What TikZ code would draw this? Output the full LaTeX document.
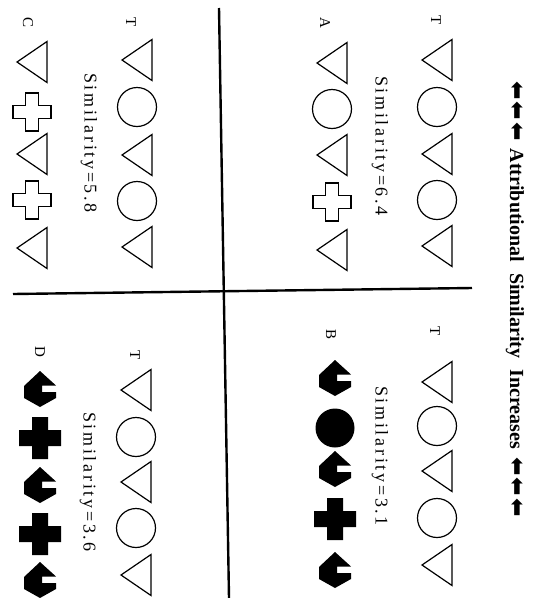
\documentclass[tikz,border=0pt]{standalone}
\usepackage{fontspec}
\setmainfont{Liberation Serif}
\newfontfamily\arrowfont{DejaVu Sans}
\newfontfamily\spacedfont[LetterSpace=15]{Liberation Serif}
\begin{document}
\begin{tikzpicture}[x=1pt,y=-1pt,
  shp/.style={draw=black,line width=1.2pt,line join=miter},
  lab/.style={rotate=-90,font=\fontsize{15}{15}\selectfont,inner sep=0pt},
  sim/.style={rotate=-90,font=\spacedfont\fontsize{18}{18}\selectfont,inner sep=0pt},
  divider/.style={line width=2.4pt},
  tri/.pic={\draw[shp] (-15,0) -- (15,-20.5) -- (15,20.5) -- cycle;},
  circo/.pic={\draw[shp] (0,0) circle[radius=19.5];},
  circb/.pic={\fill (0,0) circle[radius=19.5];},
  crosso/.pic={\draw[shp] (-6.5,-19) -- (6.5,-19) -- (6.5,-6.5) -- (19,-6.5) -- (19,6.5) -- (6.5,6.5) -- (6.5,19) -- (-6.5,19) -- (-6.5,6.5) -- (-19,6.5) -- (-19,-6.5) -- (-6.5,-6.5) -- cycle;},
  crossb/.pic={\fill (-8,-21) -- (8,-21) -- (8,-8) -- (21,-8) -- (21,8) -- (8,8) -- (8,21) -- (-8,21) -- (-8,8) -- (-21,8) -- (-21,-8) -- (-8,-8) -- cycle;},
  blob/.pic={\fill (0,-18) -- (16,-3.5) -- (2,-3.5) -- (2,3) -- (16,3) -- (16,9) -- (0,18) -- (-16,9) -- (-16,-3) -- cycle;}
]
\useasboundingbox (0,0) rectangle (541,598);

% dividers
\coordinate (vtop) at (219,8);
\coordinate (vbot) at (229,598);
\coordinate (hleft) at (13,294);
\coordinate (hright) at (472,288);
\draw[divider] (vtop) -- (vbot);
\draw[divider] (hleft) -- (hright);

% right caption
\node[rotate=-90,inner sep=0pt,font=\bfseries\fontsize{20}{20}\selectfont] (cap) at (515,299)
  {{\arrowfont\fontsize{22}{22}\selectfont ⬅\kern2pt⬅\kern2pt⬅}\hspace{8pt}Attributional\hspace{11pt}Similarity\hspace{11pt}Increases\hspace{8pt}{\arrowfont\fontsize{22}{22}\selectfont ⬅\kern2pt⬅\kern2pt⬅}};

% ---------- top right: T vs A ----------
\node[lab] (tA) at (436,20) {T};
\pic at (437,60) {tri};
\pic at (437,107) {circo};
\pic at (437,154) {tri};
\pic at (437,200) {circo};
\pic at (437,246) {tri};
\node[sim] (simA) at (380,146) {Similarity=6.4};
\node[lab] (lA) at (325,23) {A};
\pic at (332,63) {tri};
\pic at (332,109) {circo};
\pic at (332,155) {tri};
\pic at (332,202) {crosso};
\pic at (332,250) {tri};

% ---------- bottom right: T vs B ----------
\node[lab] (tB) at (435,331) {T};
\pic at (437,382) {tri};
\pic at (437,426) {circo};
\pic at (437,471) {tri};
\pic at (437,518) {circo};
\pic at (437,565) {tri};
\node[sim] (simB) at (380,456) {Similarity=3.1};
\node[lab] (lB) at (331,334) {B};
\pic at (335,378) {blob};
\pic at (335,428) {circb};
\pic at (335,469) {blob};
\pic at (335,519) {crossb};
\pic at (335,570) {blob};

% ---------- top left: T vs C ----------
\node[lab] (tC) at (131,22) {T};
\pic at (137,60) {tri};
\pic at (137,107) {circo};
\pic at (137,155) {tri};
\pic at (137,201) {circo};
\pic at (137,247) {tri};
\node[sim] (simC) at (89,143) {Similarity=5.8};
\node[lab] (lC) at (28,22) {C};
\pic at (32,62) {tri};
\pic at (32,112) {crosso};
\pic at (32,154) {tri};
\pic at (32,200) {crosso};
\pic at (32,248) {tri};

% ---------- bottom left: T vs D ----------
\node[lab] (tD) at (135,355) {T};
\pic at (136,390) {tri};
\pic at (136,437) {circo};
\pic at (136,482) {tri};
\pic at (136,528) {circo};
\pic at (136,575) {tri};
\node[sim] (simD) at (88,482) {Similarity=3.6};
\node[lab] (lD) at (40,352) {D};
\pic at (40,389) {blob};
\pic at (40,438) {crossb};
\pic at (40,485) {blob};
\pic at (40,534) {crossb};
\pic at (40,580) {blob};
\end{tikzpicture}
\end{document}
